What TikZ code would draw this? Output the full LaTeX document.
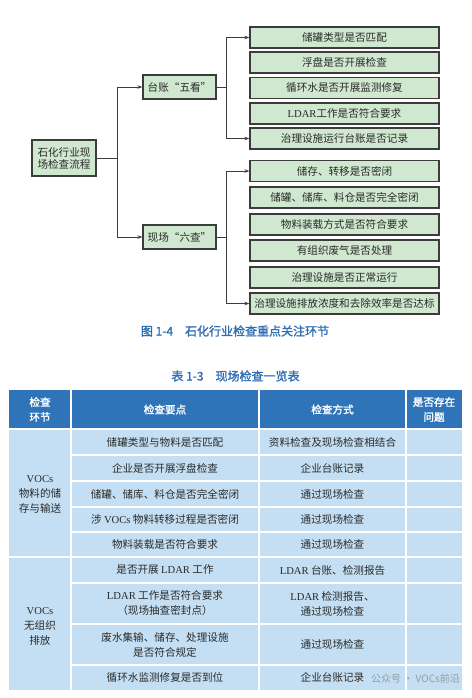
\documentclass[tikz,border=0pt]{standalone}
\usepackage{fontspec}
\setmainfont{Noto Sans CJK SC}
\newfontfamily\cjkb[FakeBold=1.6]{Noto Sans CJK SC}
\newfontfamily\lat{Liberation Serif}
\usetikzlibrary{arrows.meta}
\definecolor{boxgreen}{HTML}{CFE8CF}
\definecolor{boxline}{HTML}{3C3C3C}
\definecolor{capblue}{HTML}{2F6EB5}
\definecolor{headblue}{HTML}{2F74B8}
\definecolor{bodyblue}{HTML}{C4DFF3}
\definecolor{txt}{HTML}{2A2A2A}
\tikzset{
  gbox/.style={draw=boxline, line width=1.1pt, fill=boxgreen, inner sep=0pt,
    text=txt, font=\fontsize{10.6}{12}\selectfont, align=center},
  itembox/.style={gbox, minimum width=189pt, minimum height=21pt},
  midbox/.style={gbox, minimum width=73pt, minimum height=24pt},
  conn/.style={draw=boxline, line width=0.9pt},
  arr/.style={conn, -{Stealth[length=5pt,width=3.5pt]}},
  cell/.style={text=txt, font=\fontsize{10.6}{15}\selectfont, align=center, inner sep=0pt},
  hcell/.style={text=white, font=\cjkb\fontsize{10.6}{15}\selectfont, align=center, inner sep=0pt},
  tline/.style={draw=white, line width=1.3pt}
}
\begin{document}
\begin{tikzpicture}[x=1pt,y=-1pt]
\useasboundingbox[fill=white] (0,0) rectangle (471,698);
% ---------- diagram ----------
\node[gbox, minimum width=64pt, minimum height=36pt] (root) at (64,158) {石化行业现\\场检查流程};
\node[midbox] (tz) at (179.5,87) {台账“五看”};
\node[midbox] (xc) at (179.5,237) {现场“六查”};
\node[itembox] (a1) at (344.5,37.5) {储罐类型是否匹配};
\node[itembox] (a2) at (344.5,62.5) {浮盘是否开展检查};
\node[itembox] (a3) at (344.5,88) {循环水是否开展监测修复};
\node[itembox] (a4) at (344.5,113.5) {{\lat LDAR}工作是否符合要求};
\node[itembox] (a5) at (344.5,138.5) {治理设施运行台账是否记录};
\node[itembox] (b1) at (344.5,171) {储存、转移是否密闭};
\node[itembox] (b2) at (344.5,197.5) {储罐、储库、料仓是否完全密闭};
\node[itembox] (b3) at (344.5,224.5) {物料装载方式是否符合要求};
\node[itembox] (b4) at (344.5,250.5) {有组织废气是否处理};
\node[itembox] (b5) at (344.5,277.5) {治理设施是否正常运行};
\node[itembox] (b6) at (344.5,303.5) {治理设施排放浓度和去除效率是否达标};
\coordinate (j1) at (117,158);
\coordinate (j2) at (226,87);
\coordinate (j3) at (226,237);
\draw[conn] (root.east) -- (j1);
\draw[arr] (j1) |- (tz.west);
\draw[arr] (j1) |- (xc.west);
\draw[conn] (tz.east) -- (j2);
\draw[arr] (j2) |- (a1.west);
\draw[arr] (j2) |- (a5.west);
\draw[conn] (xc.east) -- (j3);
\draw[arr] (j3) |- (b1.west);
\draw[arr] (j3) |- (b6.west);
\node[text=capblue, font=\cjkb\fontsize{12}{14}\selectfont] (cap) at (235,331) {图 1-4\hspace{12pt}石化行业检查重点关注环节};
% ---------- table ----------
\node[text=capblue, font=\cjkb\fontsize{12}{14}\selectfont] (ttl) at (235.5,376) {表 1-3\hspace{12pt}现场检查一览表};
\fill[headblue] (9,390) rectangle (462,429);
\fill[bodyblue] (9,429) rectangle (462,690);
% horizontal lines
\draw[tline] (9,429) -- (462,429);
\draw[tline] (71,455) -- (462,455);
\draw[tline] (71,481) -- (462,481);
\draw[tline] (71,507) -- (462,507);
\draw[tline] (71,532) -- (462,532);
\draw[tline] (9,557) -- (462,557);
\draw[tline] (71,583) -- (462,583);
\draw[tline] (71,624) -- (462,624);
\draw[tline] (71,665) -- (462,665);
% vertical lines
\draw[tline] (71,390) -- (71,690);
\draw[tline] (259,390) -- (259,690);
\draw[tline] (406,390) -- (406,690);
% header
\node[hcell] (h1) at (40,409.5) {检查\\环节};
\node[hcell] (h2) at (165,409.5) {检查要点};
\node[hcell] (h3) at (332.5,409.5) {检查方式};
\node[hcell] (h4) at (434,409.5) {是否存在\\问题};
% group cells
\node[cell] (g1) at (40,494) {{\lat VOCs}\\物料的储\\存与输送};
\node[cell] (g2) at (40,626) {{\lat VOCs}\\无组织\\排放};
% rows
\node[cell] (r1a) at (165,442) {储罐类型与物料是否匹配};
\node[cell] (r1b) at (332.5,442) {资料检查及现场检查相结合};
\node[cell] (r2a) at (165,468) {企业是否开展浮盘检查};
\node[cell] (r2b) at (332.5,468) {企业台账记录};
\node[cell] (r3a) at (165,494) {储罐、储库、料仓是否完全密闭};
\node[cell] (r3b) at (332.5,494) {通过现场检查};
\node[cell] (r4a) at (165,519.5) {涉 {\lat VOCs} 物料转移过程是否密闭};
\node[cell] (r4b) at (332.5,519.5) {通过现场检查};
\node[cell] (r5a) at (165,544.5) {物料装载是否符合要求};
\node[cell] (r5b) at (332.5,544.5) {通过现场检查};
\node[cell] (r6a) at (165,570) {是否开展 {\lat LDAR} 工作};
\node[cell] (r6b) at (332.5,570) {{\lat LDAR} 台账、检测报告};
\node[cell] (r7a) at (165,603.5) {{\lat LDAR} 工作是否符合要求\\（现场抽查密封点）};
\node[cell] (r7b) at (332.5,603.5) {{\lat LDAR} 检测报告、\\通过现场检查};
\node[cell] (r8a) at (165,644.5) {废水集输、储存、处理设施\\是否符合规定};
\node[cell] (r8b) at (332.5,644.5) {通过现场检查};
\node[cell] (r9a) at (165,677.5) {循环水监测修复是否到位};
\node[cell] (r9b) at (332.5,677.5) {企业台账记录};
% watermark
\node[anchor=east, text=gray, opacity=0.7, font=\fontsize{10}{12}\selectfont, inner sep=0pt] (wm) at (460,679) {公众号 · VOCs前沿};
\end{tikzpicture}
\end{document}
